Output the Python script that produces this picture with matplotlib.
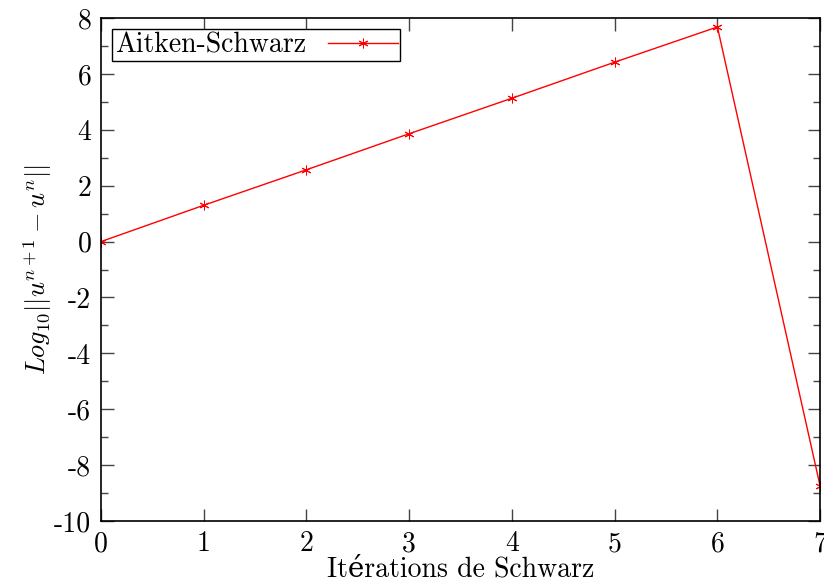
import matplotlib
matplotlib.use('Agg')
import matplotlib.pyplot as plt
from matplotlib.ticker import FuncFormatter, MultipleLocator

plt.rcParams['font.family'] = ['cmr10', 'DejaVu Serif']
plt.rcParams['mathtext.fontset'] = 'cm'
plt.rcParams['axes.unicode_minus'] = False

# convergence history of the Aitken-Schwarz iterations
iterations = [0, 1, 2, 3, 4, 5, 6, 7]
log_residual = [0.0, 1.3, 2.57, 3.86, 5.13, 6.42, 7.68, -8.75]

fig = plt.figure(figsize=(8.24, 5.87), dpi=100)
ax = fig.add_axes([0.1226, 0.1124, 0.8727, 0.8569])

ax.plot(iterations, log_residual, color='#ff0000', lw=1.0,
        marker=(6, 2, 0), ms=7, mew=0.7, label='Aitken-Schwarz')

ax.set_xlim(0, 7)
ax.set_ylim(-10, 8)
ax.xaxis.set_major_locator(MultipleLocator(1))
ax.yaxis.set_major_locator(MultipleLocator(2))
ax.yaxis.set_minor_locator(MultipleLocator(1))
fmt = FuncFormatter(lambda v, p: '%d' % round(v))
ax.xaxis.set_major_formatter(fmt)
ax.yaxis.set_major_formatter(fmt)
ax.tick_params(which='both', direction='in', top=True, right=True,
               labelsize=20, width=1.0, color='#444444')
ax.tick_params(which='major', length=9, pad=7)
ax.tick_params(which='minor', length=5)
for s in ax.spines.values():
    s.set_linewidth(1.2)

ax.set_xlabel('Itérations de Schwarz', fontsize=20, labelpad=-1)
ax.set_ylabel(r'$Log_{10}||u^{n+1}-u^{n}||$', fontsize=19, labelpad=0)

leg = ax.legend(loc='upper left', markerfirst=False, fontsize=20,
                fancybox=False, framealpha=1, edgecolor='black',
                handlelength=2.5, handletextpad=0.8, borderpad=0.1,
                borderaxespad=0.4)
leg.get_frame().set_linewidth(1.0)

fig.savefig('out.png', dpi=100)
